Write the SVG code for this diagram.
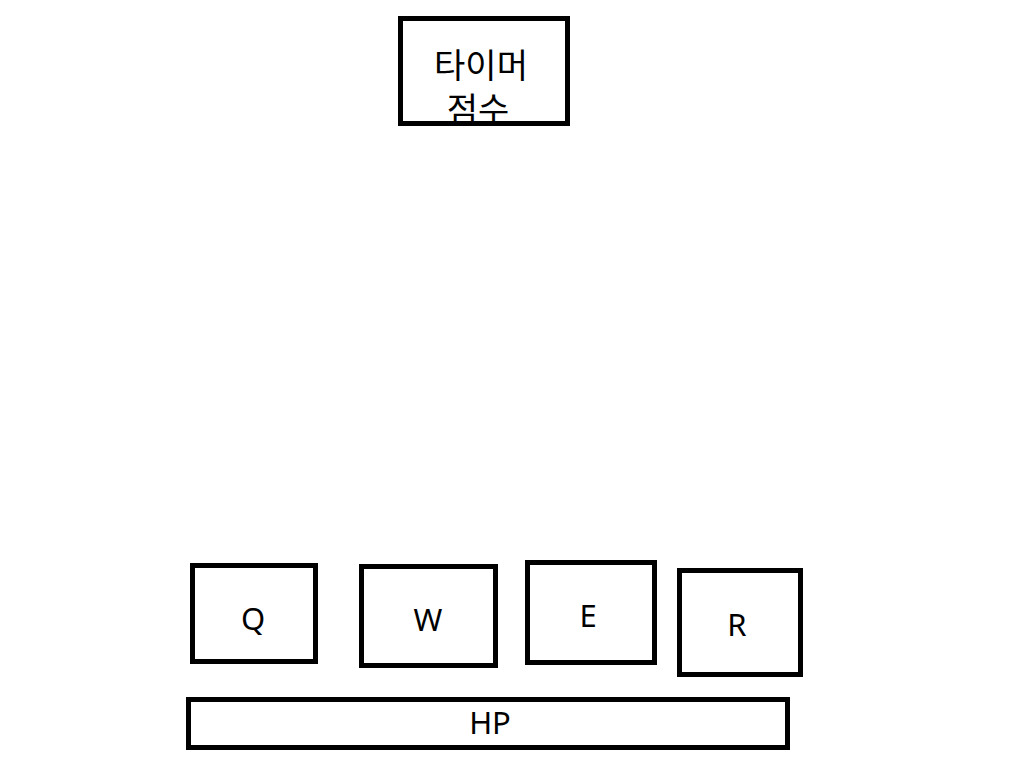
<svg xmlns="http://www.w3.org/2000/svg" width="1024" height="768" viewBox="0 0 1024 768">
<style>
.box{fill:none;stroke:#000;stroke-width:5}
.lbl{font-family:"Noto Sans","Noto Sans CJK KR",sans-serif;font-size:31px;fill:#000;text-anchor:middle}
.kr{font-family:"Noto Sans CJK KR","Noto Sans",sans-serif;font-size:34px;fill:#000;text-anchor:middle}
</style>
<rect width="1024" height="768" fill="#fff"/>
<g id="connectors"></g>
<g id="timer">
<text class="kr" x="481" y="78">타이머</text>
<text class="kr" x="478" y="122">점수</text>
<rect class="box" x="400.5" y="18.5" width="167" height="105"/>
</g>
<g id="q">
<rect class="box" x="192.5" y="565.5" width="123" height="96"/>
<text class="lbl" x="253" y="630">Q</text>
</g>
<g id="w">
<rect class="box" x="361.5" y="566.5" width="134" height="99"/>
<text class="lbl" x="428" y="631">W</text>
</g>
<g id="e">
<rect class="box" x="527.5" y="562.5" width="127" height="100"/>
<text class="lbl" x="588" y="627">E</text>
</g>
<g id="r">
<rect class="box" x="679.5" y="570.5" width="121" height="104"/>
<text class="lbl" x="737" y="636">R</text>
</g>
<g id="hp">
<rect class="box" x="188.5" y="699.5" width="599" height="48"/>
<text class="lbl" x="490" y="734">HP</text>
</g>
</svg>
